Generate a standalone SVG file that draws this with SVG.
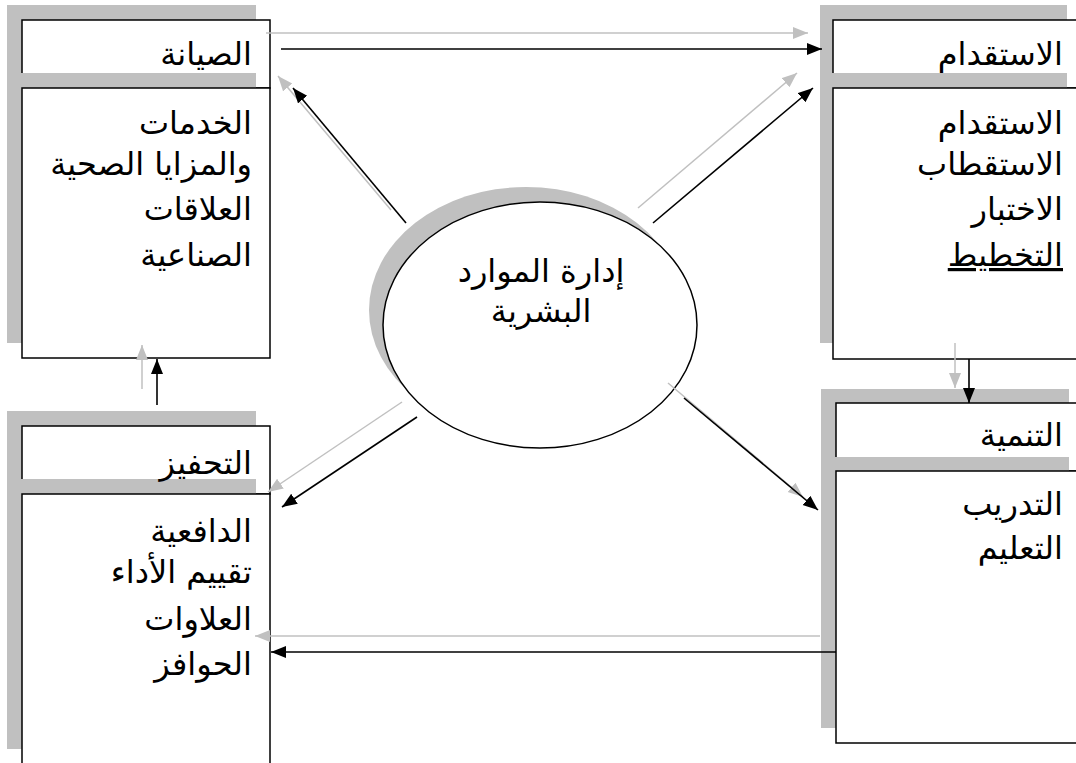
<svg xmlns="http://www.w3.org/2000/svg" width="1076" height="763" viewBox="0 0 1076 763">
<style>
.sh{fill:#c0c0c0;stroke:none}
.bx{fill:#fff;stroke:#000;stroke-width:1.5}
.t{font-family:'DejaVu Sans',sans-serif;font-size:32px;fill:#000;text-anchor:end}
.c{text-anchor:middle}
.lk{stroke:#000;stroke-width:1.6;fill:none;marker-end:url(#ak)}
.lg{stroke:#c0c0c0;stroke-width:1.5;fill:none;marker-end:url(#ag)}
</style>
<defs>
<marker id="ak" markerUnits="userSpaceOnUse" markerWidth="16" markerHeight="14" refX="15" refY="6" orient="auto"><path d="M0,0 L15,6 L0,12 z" fill="#000"/></marker>
<marker id="ag" markerUnits="userSpaceOnUse" markerWidth="16" markerHeight="14" refX="15" refY="6" orient="auto"><path d="M0,0 L15,6 L0,12 z" fill="#c0c0c0"/></marker>
</defs>
<rect width="1076" height="763" fill="#fff"/>

<g id="node-maintenance">
<rect class="sh" x="7" y="5" width="249" height="68"/>
<rect class="bx" x="22" y="20" width="248" height="68"/>
<rect class="sh" x="7" y="73" width="249" height="270"/>
<rect class="bx" x="22" y="88" width="248" height="270"/>
<text class="t" x="252" y="65">الصيانة</text>
<text class="t" x="252" y="134">الخدمات</text>
<text class="t" x="252" y="175">والمزايا الصحية</text>
<text class="t" x="252" y="220">العلاقات</text>
<text class="t" x="252" y="266">الصناعية</text>
</g>

<g id="node-recruitment">
<rect class="sh" x="820" y="5" width="247" height="68"/>
<rect class="bx" x="833" y="20" width="250" height="68"/>
<rect class="sh" x="820" y="73" width="247" height="270"/>
<rect class="bx" x="833" y="88" width="250" height="271"/>
<text class="t" x="1063" y="65">الاستقدام</text>
<text class="t" x="1063" y="134">الاستقدام</text>
<text class="t" x="1063" y="175">الاستقطاب</text>
<text class="t" x="1063" y="220">الاختبار</text>
<text class="t" x="1063" y="266" text-decoration="underline">التخطيط</text>
</g>

<g id="node-motivation">
<rect class="sh" x="7" y="411" width="249" height="68"/>
<rect class="bx" x="22" y="426" width="248" height="68"/>
<rect class="sh" x="7" y="479" width="249" height="270"/>
<rect class="bx" x="22" y="494" width="248" height="275"/>
<text class="t" x="252" y="474">التحفيز</text>
<text class="t" x="252" y="542">الدافعية</text>
<text class="t" x="252" y="583">تقييم الأداء</text>
<text class="t" x="252" y="630">العلاوات</text>
<text class="t" x="252" y="675">الحوافز</text>
</g>

<g id="node-development">
<rect class="sh" x="821" y="389" width="248" height="68"/>
<rect class="bx" x="836" y="403" width="250" height="68"/>
<rect class="sh" x="821" y="457" width="248" height="271"/>
<rect class="bx" x="836" y="471" width="250" height="272"/>
<text class="t" x="1063" y="446">التنمية</text>
<text class="t" x="1063" y="515">التدريب</text>
<text class="t" x="1063" y="559">التعليم</text>
</g>

<g id="node-hrm">
<ellipse class="sh" cx="526" cy="310" rx="157" ry="123"/>
<ellipse class="bx" cx="540" cy="325" rx="157" ry="123"/>
<text class="t c" x="541" y="282">إدارة الموارد</text>
<text class="t c" x="541" y="322">البشرية</text>
</g>

<g id="connectors">
<line class="lg" x1="391" y1="210" x2="278" y2="76"/>
<line class="lk" x1="406" y1="223" x2="293" y2="88"/>
<line class="lg" x1="638" y1="208" x2="797" y2="73"/>
<line class="lk" x1="653" y1="223" x2="813" y2="88"/>
<line class="lg" x1="402" y1="402" x2="268" y2="492"/>
<line class="lk" x1="417" y1="417" x2="282" y2="507"/>
<line class="lg" x1="668" y1="383" x2="803" y2="497"/>
<line class="lk" x1="684" y1="398" x2="818" y2="510"/>
<line class="lg" x1="266" y1="33" x2="808" y2="33"/>
<line class="lk" x1="281" y1="49" x2="822" y2="49"/>
<line class="lg" x1="142" y1="389" x2="142" y2="345"/>
<line class="lk" x1="157" y1="405" x2="157" y2="359"/>
<line class="lg" x1="955" y1="343" x2="955" y2="388"/>
<line class="lk" x1="969" y1="359" x2="969" y2="403"/>
<line class="lg" x1="820" y1="636" x2="255" y2="636"/>
<line class="lk" x1="836" y1="652" x2="271" y2="652"/>
</g>
</svg>
